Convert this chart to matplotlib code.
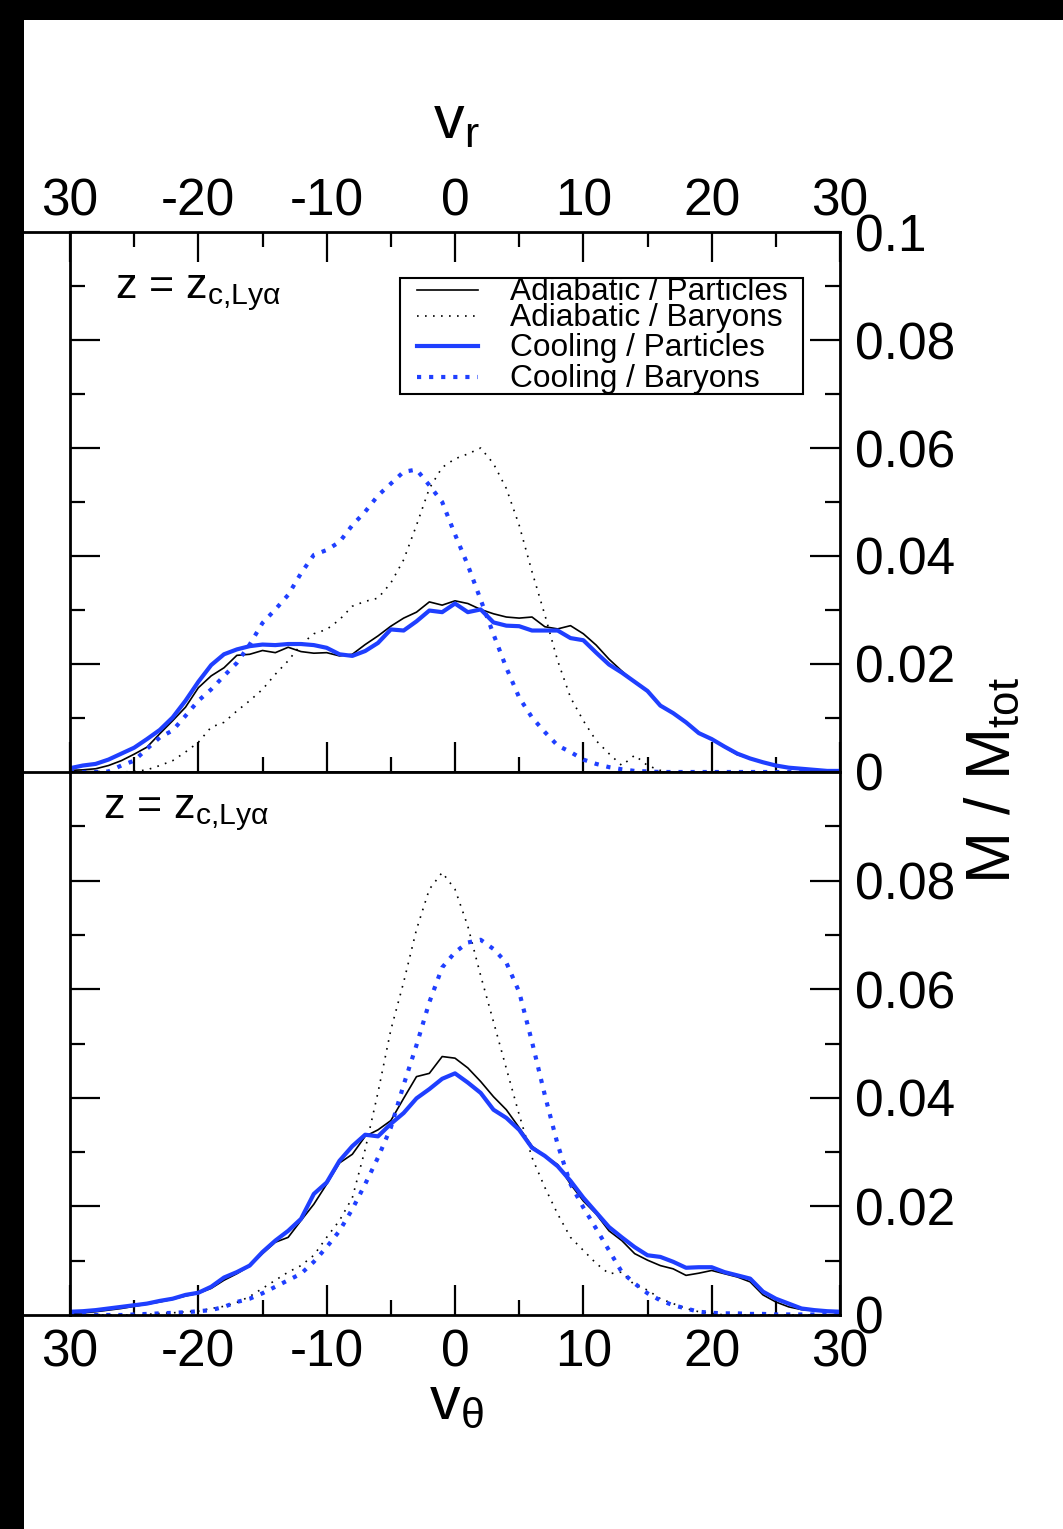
import matplotlib
matplotlib.use('Agg')
import matplotlib.pyplot as plt
from matplotlib.lines import Line2D
from matplotlib.patches import Rectangle
from matplotlib.ticker import MultipleLocator

plt.rcParams['font.family'] = ['Liberation Sans', 'DejaVu Sans']
plt.rcParams['mathtext.default'] = 'regular'

# ---------------- data ----------------
v = list(range(-30, 31))

# upper panel (v_r)
up_adi_part = [0.0003, 0.0004, 0.0006, 0.0012, 0.0021, 0.0033, 0.0046, 0.0071, 0.0095, 0.0120,
               0.0156, 0.0178, 0.0193, 0.0216, 0.0218, 0.0225, 0.0221, 0.0231, 0.0223, 0.0220,
               0.0221, 0.0215, 0.0218, 0.0236, 0.0252, 0.0270, 0.0285, 0.0296, 0.0315, 0.0309,
               0.0317, 0.0312, 0.0301, 0.0293, 0.0287, 0.0285, 0.0287, 0.0269, 0.0265, 0.0271,
               0.0256, 0.0235, 0.0209, 0.0187, 0.0166, 0.0149, 0.0123, 0.0109, 0.0092, 0.0072,
               0.0061, 0.0046, 0.0032, 0.0025, 0.0017, 0.0012, 0.0008, 0.0005, 0.0003, 0.0002,
               0.0001]
up_adi_bary = [0.0, 0.0, 0.0, 0.0, 0.0, 0.0001, 0.0004, 0.0012, 0.0021, 0.0037,
               0.0055, 0.0083, 0.0092, 0.0113, 0.0132, 0.0153, 0.0181, 0.0206, 0.0236, 0.0256,
               0.0264, 0.0282, 0.0307, 0.0316, 0.0322, 0.0350, 0.0393, 0.0457, 0.0525, 0.0564,
               0.0580, 0.0589, 0.0600, 0.0571, 0.0525, 0.0457, 0.0371, 0.0291, 0.0206, 0.0138,
               0.0095, 0.0058, 0.0034, 0.0012, 0.0031, 0.0012, 0.0003, 0.0, 0.0, 0.0,
               0.0, 0.0, 0.0, 0.0, 0.0, 0.0, 0.0, 0.0, 0.0, 0.0,
               0.0]
up_cool_part = [0.0007, 0.0012, 0.0015, 0.0023, 0.0034, 0.0045, 0.0061, 0.0078, 0.0101, 0.0132,
                0.0167, 0.0198, 0.0218, 0.0227, 0.0233, 0.0236, 0.0235, 0.0237, 0.0237, 0.0235,
                0.0230, 0.0218, 0.0215, 0.0224, 0.0239, 0.0264, 0.0262, 0.0279, 0.0299, 0.0296,
                0.0312, 0.0296, 0.0301, 0.0277, 0.0271, 0.0270, 0.0262, 0.0262, 0.0262, 0.0248,
                0.0244, 0.0221, 0.0199, 0.0184, 0.0167, 0.0150, 0.0123, 0.0109, 0.0092, 0.0072,
                0.0061, 0.0047, 0.0034, 0.0025, 0.0018, 0.0012, 0.0008, 0.0006, 0.0004, 0.0002,
                0.0002]
up_cool_bary = [0.0, 0.0, 0.0, 0.0001, 0.0012, 0.0021, 0.0043, 0.0064, 0.0077, 0.0104,
                0.0132, 0.0153, 0.0178, 0.0202, 0.0236, 0.0276, 0.0301, 0.0328, 0.0368, 0.0402,
                0.0411, 0.0426, 0.0457, 0.0482, 0.0512, 0.0534, 0.0556, 0.0560, 0.0531, 0.0500,
                0.0440, 0.0383, 0.0319, 0.0255, 0.0193, 0.0138, 0.0101, 0.0074, 0.0049, 0.0037,
                0.0023, 0.0015, 0.0009, 0.0005, 0.0002, 0.0001, 0.0, 0.0, 0.0, 0.0,
                0.0, 0.0, 0.0, 0.0, 0.0, 0.0, 0.0, 0.0, 0.0, 0.0,
                0.0]

# lower panel (v_theta)
lo_adi_part = [0.0003, 0.0004, 0.0006, 0.0009, 0.0012, 0.0016, 0.0020, 0.0024, 0.0029, 0.0035,
               0.0040, 0.0049, 0.0064, 0.0076, 0.0090, 0.0113, 0.0134, 0.0143, 0.0174, 0.0204,
               0.0241, 0.0280, 0.0296, 0.0329, 0.0341, 0.0358, 0.0399, 0.0439, 0.0445, 0.0476,
               0.0473, 0.0455, 0.0430, 0.0402, 0.0378, 0.0345, 0.0311, 0.0293, 0.0277, 0.0241,
               0.0210, 0.0186, 0.0155, 0.0137, 0.0113, 0.0101, 0.0091, 0.0085, 0.0073, 0.0077,
               0.0082, 0.0076, 0.0070, 0.0061, 0.0037, 0.0024, 0.0015, 0.0010, 0.0008, 0.0006,
               0.0004]
lo_adi_bary = [0.0, 0.0, 0.0, 0.0, 0.0, 0.0, 0.0001, 0.0003, 0.0004, 0.0006,
               0.0007, 0.0012, 0.0016, 0.0023, 0.0034, 0.0049, 0.0064, 0.0079, 0.0091, 0.0110,
               0.0143, 0.0174, 0.0216, 0.0305, 0.0410, 0.0525, 0.0613, 0.0710, 0.0784, 0.0815,
               0.0784, 0.0716, 0.0625, 0.0540, 0.0454, 0.0369, 0.0290, 0.0235, 0.0186, 0.0143,
               0.0119, 0.0095, 0.0076, 0.0079, 0.0055, 0.0046, 0.0030, 0.0021, 0.0012, 0.0006,
               0.0003, 0.0, 0.0, 0.0, 0.0, 0.0, 0.0, 0.0, 0.0, 0.0,
               0.0]
lo_cool_part = [0.0006, 0.0007, 0.0009, 0.0012, 0.0015, 0.0018, 0.0021, 0.0026, 0.0030, 0.0037,
                0.0041, 0.0052, 0.0069, 0.0079, 0.0091, 0.0116, 0.0137, 0.0155, 0.0177, 0.0223,
                0.0244, 0.0284, 0.0311, 0.0332, 0.0329, 0.0352, 0.0372, 0.0399, 0.0416, 0.0435,
                0.0445, 0.0428, 0.0409, 0.0378, 0.0363, 0.0341, 0.0308, 0.0293, 0.0274, 0.0247,
                0.0216, 0.0189, 0.0162, 0.0143, 0.0125, 0.0110, 0.0107, 0.0098, 0.0087, 0.0088,
                0.0088, 0.0079, 0.0073, 0.0067, 0.0043, 0.0030, 0.0021, 0.0012, 0.0009, 0.0007,
                0.0006]
lo_cool_bary = [0.0, 0.0, 0.0, 0.0, 0.0, 0.0001, 0.0002, 0.0003, 0.0004, 0.0005,
                0.0007, 0.0009, 0.0015, 0.0024, 0.0030, 0.0040, 0.0052, 0.0064, 0.0076, 0.0098,
                0.0125, 0.0155, 0.0195, 0.0241, 0.0290, 0.0345, 0.0424, 0.0497, 0.0576, 0.0640,
                0.0668, 0.0686, 0.0691, 0.0674, 0.0649, 0.0595, 0.0503, 0.0405, 0.0314, 0.0241,
                0.0198, 0.0159, 0.0119, 0.0079, 0.0058, 0.0040, 0.0027, 0.0018, 0.0012, 0.0006,
                0.0004, 0.0003, 0.0003, 0.0002, 0.0002, 0.0001, 0.0001, 0.0001, 0.0001, 0.0001,
                0.0001]

legend_labels = ['Adiabatic / Particles', 'Adiabatic / Baryons',
                 'Cooling / Particles', 'Cooling / Baryons']
xtick_vals = [-30, -20, -10, 0, 10, 20, 30]
xtick_labels = ['30', '-20', '-10', '0', '10', '20', '30']
ytick_vals = [0, 0.02, 0.04, 0.06, 0.08, 0.1]
ytick_labels_up = ['0', '0.02', '0.04', '0.06', '0.08', '0.1']
ytick_labels_lo = ['0', '0.02', '0.04', '0.06', '0.08', '']
panel_text = r'z = z$_{c{,}Ly\alpha}$'

# ---------------- styles ----------------
BLUE = '#1f3fff'
styles = [
    dict(color='black', lw=1.2, ls='-'),
    dict(color='black', lw=1.2, ls=(0, (1, 3.8))),
    dict(color=BLUE, lw=3.0, ls='-'),
    dict(color=BLUE, lw=3.0, ls=(0, (1, 1.9)), dash_capstyle='butt'),
]

W, H = 1063, 1529
fig = plt.figure(figsize=(W / 100, H / 100), dpi=100)
fig.patch.set_facecolor('white')


def fx(px):
    return px / W


def fy(py):
    return 1 - py / H


ax1 = fig.add_axes([fx(70), fy(772), fx(840) - fx(70), fy(232) - fy(772)])
ax2 = fig.add_axes([fx(70), fy(1315), fx(840) - fx(70), fy(772) - fy(1315)])

for ax, series in ((ax1, [up_adi_part, up_adi_bary, up_cool_part, up_cool_bary]),
                   (ax2, [lo_adi_part, lo_adi_bary, lo_cool_part, lo_cool_bary])):
    for s, st in zip(series, styles):
        ax.plot(v, s, **st)
    ax.set_xlim(-30, 30)
    ax.set_ylim(0, 0.1)
    ax.set_xticks(xtick_vals)
    ax.set_xticklabels(xtick_labels)
    ax.xaxis.set_minor_locator(MultipleLocator(5))
    ax.set_yticks(ytick_vals)
    ax.yaxis.set_minor_locator(MultipleLocator(0.01))
    for sp in ax.spines.values():
        sp.set_linewidth(2.0)
    ax.tick_params(which='major', direction='in', length=21.5, width=1.6, labelsize=37)
    ax.tick_params(which='minor', direction='in', length=10.8, width=1.6)
    ax.tick_params(axis='y', which='both', left=True, right=True,
                   labelleft=False, labelright=True, pad=11)

ax1.tick_params(axis='x', which='both', top=True, bottom=True,
                labeltop=True, labelbottom=False, pad=4)
ax1.set_yticklabels(ytick_labels_up)
ax2.tick_params(axis='x', which='both', top=False, bottom=True,
                labeltop=False, labelbottom=True, pad=10)
ax2.set_yticklabels(ytick_labels_lo)

# panel annotations
fig.text(fx(115), fy(298), panel_text, fontsize=31, va='baseline')
fig.text(fx(103), fy(818), panel_text, fontsize=31, va='baseline')

# axis labels
fig.text(fx(456), fy(138), r'v$_r$', fontsize=44, ha='center', va='baseline')
fig.text(fx(456), fy(1418), r'v$_\theta$', fontsize=44, ha='center', va='baseline')
fig.text(fx(994), fy(780), r'M / M$_{tot}$', fontsize=45, rotation=90,
         ha='center', va='center')

# legend (manual, to reproduce the tight spacing)
fig.add_artist(Rectangle((fx(400), fy(394)), fx(803) - fx(400), fy(278) - fy(394),
                         transform=fig.transFigure, facecolor='white',
                         edgecolor='black', lw=1.5, zorder=5))
for lab, st, ly in zip(legend_labels, styles, [290, 316, 346, 377]):
    fig.add_artist(Line2D([fx(417), fx(478)], [fy(ly), fy(ly)],
                          transform=fig.transFigure, zorder=6, **st))
    fig.text(fx(510), fy(ly + 10), lab, fontsize=22.8, va='baseline', zorder=6)

# horizontal rules extending to the left edge
for yy in (232, 772, 1315):
    fig.add_artist(Line2D([fx(24), fx(70)], [fy(yy), fy(yy)],
                          transform=fig.transFigure, color='black', lw=2.0))

# black frame strips from the original page
fig.add_artist(Rectangle((0, 0), fx(24), 1, transform=fig.transFigure,
                         facecolor='black', edgecolor='none', zorder=10))
fig.add_artist(Rectangle((0, fy(20)), 1, 1 - fy(20), transform=fig.transFigure,
                         facecolor='black', edgecolor='none', zorder=10))

fig.savefig('out.png', dpi=100, facecolor='white')
